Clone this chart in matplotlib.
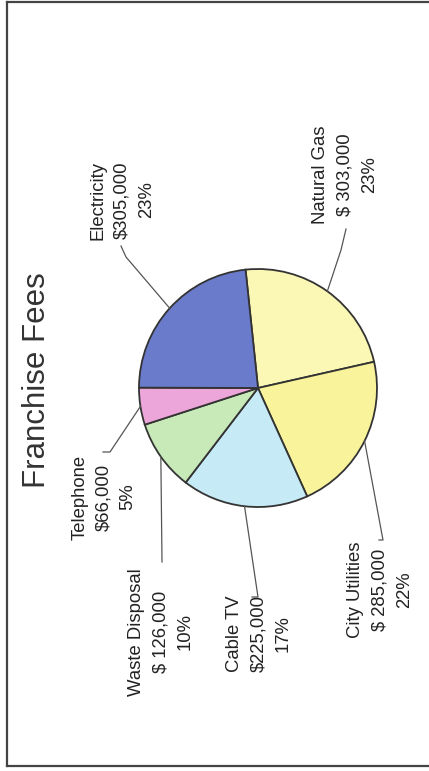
import numpy as np
import matplotlib.pyplot as plt
from matplotlib.lines import Line2D

# === Data (clockwise from the top of the pie) ===
categories = ["Natural Gas", "City Utilities", "Cable TV", "Waste Disposal", "Telephone", "Electricity"]
values = [303000, 285000, 225000, 126000, 66000, 305000]
money_labels = ["$ 303,000", "$ 285,000", "$225,000", "$ 126,000", "$66,000", "$305,000"]
colors = ["#fbf7b4", "#f9f49b", "#c6eaf6", "#c8eab9", "#eda6da", "#6a7bcc"]
title = "Franchise Fees"

W, H = 429, 771
plt.rcParams['font.family'] = ['Liberation Sans', 'DejaVu Sans']
fig = plt.figure(figsize=(W / 100, H / 100), dpi=100)

def fx(px):
    return px / W

def fy(py):
    return 1 - py / H

# === Pie (chart is printed sideways) ===
cx, cy, r = 258, 388, 119
ax = fig.add_axes([fx(cx - r), fy(cy + r), 2 * r / W, 2 * r / H])
wedges, _ = ax.pie(values, colors=colors, startangle=96, counterclock=False,
                   wedgeprops=dict(edgecolor="#333333", linewidth=1.3))
ax.set_xlim(-1, 1)
ax.set_ylim(-1, 1)
ax.set_aspect('auto')
ax.axis('off')

# --- label blocks (centre in px) and leader paths (px, ending at the wedge edge) ---
text_pos = [(345, 175), (380, 590), (259, 634), (161, 632), (104, 497), (122, 200)]
leaders = [
    [(346, 229), (341, 250)],
    [(379, 540), (383, 540)],
    [(252, 597), (258, 597)],
    [(162, 562)],
    [(103, 452), (110, 452)],
    [(121, 246), (126, 257)],
]

for w, name, money, (tx, ty), path in zip(wedges, categories, money_labels, text_pos, leaders):
    pct = round(100 * (w.theta2 - w.theta1) / 360)
    fig.text(fx(tx), fy(ty), f"{name}\n{money}\n{pct}%", rotation=90,
             ha='center', va='center', multialignment='center',
             fontsize=13.3, linespacing=1.55, color="#222222", parse_math=False)
    mid = np.deg2rad((w.theta1 + w.theta2) / 2)
    ex, ey = np.cos(mid), np.sin(mid)
    pts = [ax.transData.inverted().transform(fig.transFigure.transform((fx(p[0]), fy(p[1])))) for p in path]
    xs = [p[0] for p in pts] + [ex]
    ys = [p[1] for p in pts] + [ey]
    ax.plot(xs, ys, color="#555555", lw=0.9, clip_on=False)

# === Title ===
fig.text(fx(37), fy(380), title, rotation=90, ha='center', va='center',
         fontsize=22.5, color="#333333")

# === Frame (top, left, bottom; right edge runs off the scan) ===
for xs, ys in [([7, 429], [2, 2]), ([7, 7], [2, 766]), ([7, 429], [766, 766])]:
    fig.add_artist(Line2D([fx(v) for v in xs], [fy(v) for v in ys],
                          transform=fig.transFigure, color="#444444", lw=1.6))

fig.savefig("out.png", dpi=100, facecolor="white")
